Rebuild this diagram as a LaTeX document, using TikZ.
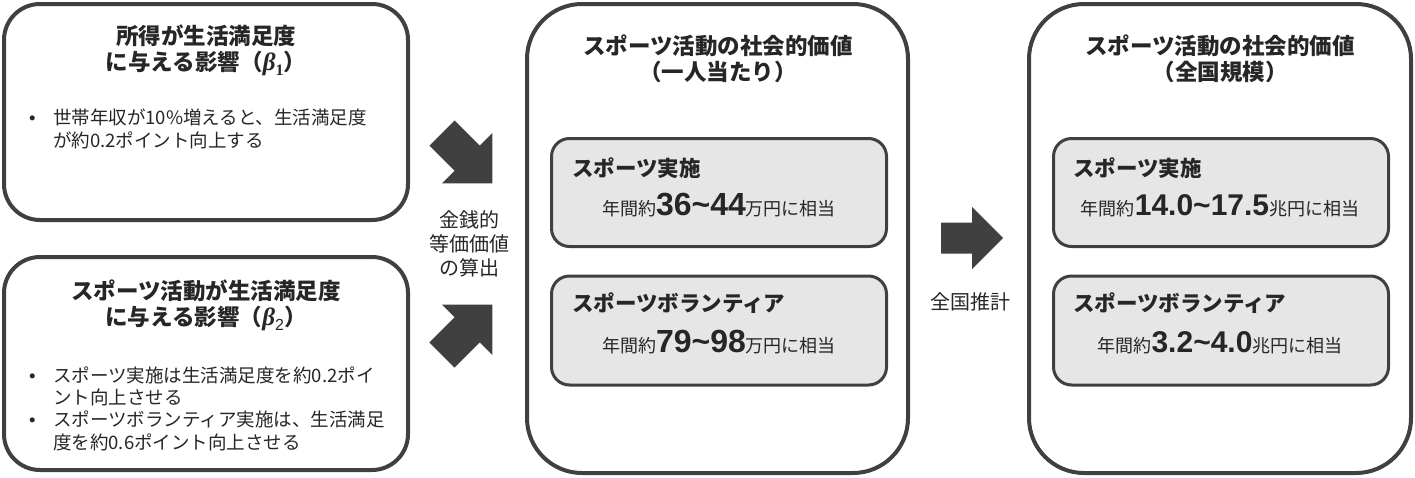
\documentclass[tikz,border=0pt]{standalone}
\usepackage{fontspec}
\setmainfont{Noto Sans CJK JP}
\newfontfamily\numfont{Liberation Sans}
\newfontfamily\greekfont{Liberation Serif}
\definecolor{boxline}{HTML}{404040}
\definecolor{innerfill}{HTML}{E7E6E6}
\definecolor{ink}{HTML}{262626}
\newcommand{\bignum}[2]{{\numfont\bfseries\fontsize{#1}{#1}\selectfont #2}}
\newcommand{\betaof}[1]{{\greekfont\bfseries\itshape\fontsize{25}{26}\selectfont β\raisebox{-0.22em}{\upshape\fontsize{16}{16}\selectfont #1}}}
\tikzset{
  bigbox/.style={draw=boxline, line width=4pt, inner sep=0pt},
  innerbox/.style={draw=boxline, fill=innerfill, line width=3pt, rounded corners=18pt, inner sep=0pt},
  titletext/.style={text=ink, align=center, inner sep=0pt, font=\bfseries\fontsize{22.5}{26}\selectfont},
  headtext/.style={text=ink, inner sep=0pt, font=\bfseries\fontsize{21.5}{24}\selectfont},
  notetext/.style={text=ink, align=left, inner sep=0pt, font=\fontsize{18.5}{22.3}\selectfont},
  valuetext/.style={text=ink, inner sep=0pt, font=\fontsize{18}{20}\selectfont},
  steptext/.style={text=ink, align=center, inner sep=0pt, font=\fontsize{20}{24}\selectfont},
  arrowfill/.style={fill=boxline},
}
\newcommand{\dotitem}{\makebox[24pt][l]{\numfont •}}
\newcommand{\contitem}{\hspace*{24pt}}
\begin{document}
\begin{tikzpicture}[x=1pt, y=-1pt]
  \useasboundingbox (0,0) rectangle (1415,477);
  % left: the two effects on life satisfaction
  \node[bigbox, rounded corners=36pt, minimum width=404pt, minimum height=216pt] (income) at (206,112) {};
  \node[bigbox, rounded corners=36pt, minimum width=404pt, minimum height=213pt] (sport) at (206,363.5) {};
  \node[titletext] (incometitle) at (206,50) {所得が生活満足度\\に与える影響（\betaof{1}）};
  \node[notetext, anchor=west] (incomenote) at (29,129) {\dotitem 世帯年収が10\%増えると、生活満足度\\\contitem が約0.2ポイント向上する};
  \node[titletext] (sporttitle) at (206,305) {スポーツ活動が生活満足度\\に与える影響（\betaof{\numfont\mdseries 2}）};
  \node[notetext, anchor=west] (sportnote) at (29,408.5) {\dotitem スポーツ実施は生活満足度を約0.2ポイ\\\contitem ント向上させる\\\dotitem スポーツボランティア実施は、生活満足\\\contitem 度を約0.6ポイント向上させる};

  % middle: value per person
  \node[bigbox, rounded corners=55pt, minimum width=381pt, minimum height=469pt] (perhead) at (717.5,238.5) {};
  \node[titletext] (perheadtitle) at (718,58.5) {スポーツ活動の社会的価値\\（一人当たり）};
  \node[innerbox, minimum width=335pt, minimum height=108pt] (phplay) at (719,192.5) {};
  \node[innerbox, minimum width=335pt, minimum height=109pt] (phvol) at (719,330.5) {};
  \node[headtext, anchor=west] (phplayhead) at (572,168) {スポーツ実施};
  \node[valuetext, anchor=base] (phplayval) at (719,215) {年間約\bignum{32}{36\textasciitilde44}万円に相当};
  \node[headtext, anchor=west] (phvolhead) at (572,303) {スポーツボランティア};
  \node[valuetext, anchor=base] (phvolval) at (719,352) {年間約\bignum{32}{79\textasciitilde98}万円に相当};

  % right: national scale
  \node[bigbox, rounded corners=55pt, minimum width=382pt, minimum height=469pt] (national) at (1220,238.5) {};
  \node[titletext] (nationaltitle) at (1220,58.5) {スポーツ活動の社会的価値\\（全国規模）};
  \node[innerbox, minimum width=335pt, minimum height=108pt] (natplay) at (1221,192.5) {};
  \node[innerbox, minimum width=335pt, minimum height=109pt] (natvol) at (1221,330.5) {};
  \node[headtext, anchor=west] (natplayhead) at (1073,168) {スポーツ実施};
  \node[valuetext, anchor=base] (natplayval) at (1220,215) {年間約\bignum{30}{14.0\textasciitilde17.5}兆円に相当};
  \node[headtext, anchor=west] (natvolhead) at (1073,303) {スポーツボランティア};
  \node[valuetext, anchor=base] (natvolval) at (1220,352) {年間約\bignum{30}{3.2\textasciitilde4.0}兆円に相当};

  % block arrows
  \fill[arrowfill, shift={(442,133)}, rotate=-45, scale=1.15] (0,-15.5) -- (31,-15.5) -- (31,-31) -- (62,0) -- (31,31) -- (31,15.5) -- (0,15.5) -- cycle;
  \fill[arrowfill, shift={(442,355)}, rotate=45, scale=1.15] (0,-15.5) -- (31,-15.5) -- (31,-31) -- (62,0) -- (31,31) -- (31,15.5) -- (0,15.5) -- cycle;
  \fill[arrowfill, shift={(941,238)}] (0,-15.5) -- (31,-15.5) -- (31,-31) -- (62,0) -- (31,31) -- (31,15.5) -- (0,15.5) -- cycle;
  \node[steptext] (money) at (469,244) {金銭的\\等価価値\\の算出};
  \node[steptext] (estimate) at (970,302) {全国推計};
\end{tikzpicture}
\end{document}
